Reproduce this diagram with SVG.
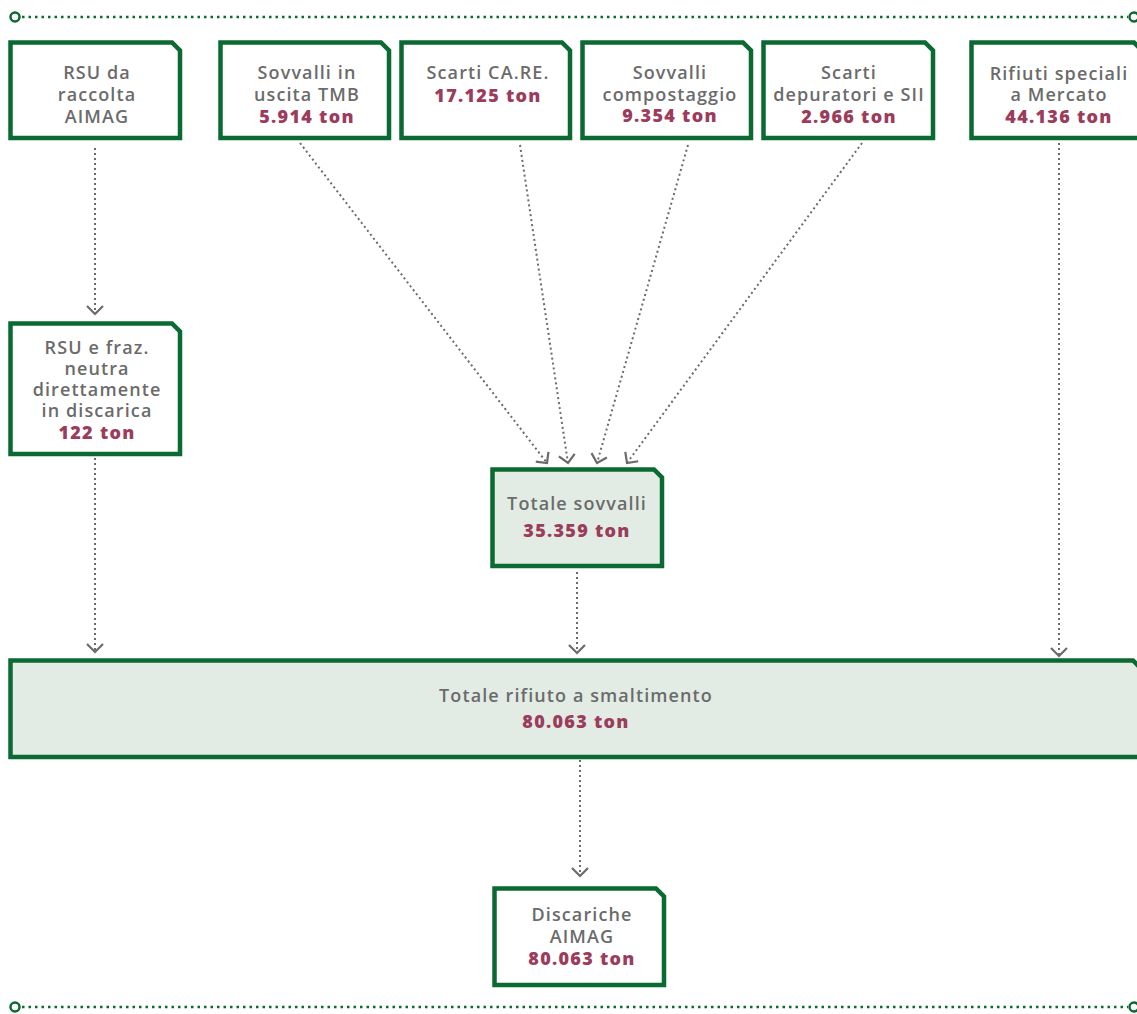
<svg xmlns="http://www.w3.org/2000/svg" width="1137" height="1014" viewBox="0 0 1137 1014">
<defs>
<style>
.box{fill:#ffffff;stroke:#0b6a31;stroke-width:4.5;stroke-linejoin:miter}
.boxf{fill:#e2ece4;stroke:#0b6a31;stroke-width:4.5}
.t{font-family:"Open Sans","Liberation Sans",sans-serif;font-size:18px;font-weight:600;fill:#6b6b6b;text-anchor:middle;letter-spacing:1.1px}
.n{font-family:"Open Sans","Liberation Sans",sans-serif;font-size:18px;font-weight:800;fill:#9c3c5c;text-anchor:middle;letter-spacing:1.3px}
.c{fill:none;stroke:#6b6b6b;stroke-width:2;stroke-dasharray:2 3}
.rule{fill:none;stroke:#0b6a31;stroke-width:2.5;stroke-dasharray:2.5 4}
.end{fill:#fff;stroke:#0b6a31;stroke-width:2.5}
</style>
<marker id="ah" viewBox="0 0 20 20" refX="10" refY="10" markerWidth="20" markerHeight="20" markerUnits="userSpaceOnUse" orient="auto">
<path d="M2 2 L10 10 L2 18" fill="none" stroke="#6b6b6b" stroke-width="2.2"/>
</marker>
</defs>
<g id="rules">
<line class="rule" x1="22" y1="17" x2="1128" y2="17"/>
<circle class="end" cx="15" cy="17" r="4.5"/>
<circle class="end" cx="1134" cy="17" r="4.5"/>
<line class="rule" x1="22" y1="1007" x2="1128" y2="1007"/>
<circle class="end" cx="15" cy="1007" r="4.5"/>
<circle class="end" cx="1134" cy="1007" r="4.5"/>
</g>
<g id="connectors">
<line class="c" x1="95" y1="148" x2="95" y2="314" marker-end="url(#ah)"/>
<line class="c" x1="300" y1="143" x2="547" y2="463" marker-end="url(#ah)"/>
<line class="c" x1="520" y1="145" x2="568" y2="463" marker-end="url(#ah)"/>
<line class="c" x1="688" y1="145" x2="597" y2="463" marker-end="url(#ah)"/>
<line class="c" x1="862" y1="143" x2="627" y2="463" marker-end="url(#ah)"/>
<line class="c" x1="95" y1="458" x2="95" y2="652" marker-end="url(#ah)"/>
<line class="c" x1="577" y1="572" x2="577" y2="653" marker-end="url(#ah)"/>
<line class="c" x1="1059" y1="143" x2="1059" y2="656" marker-end="url(#ah)"/>
<line class="c" x1="580" y1="760" x2="580" y2="876" marker-end="url(#ah)"/>
</g>
<g id="n1">
<path class="box" d="M10.5 42.5 H172 L180 50.5 V138 H10.5 Z"/>
<text class="t" x="97" y="79">RSU da</text>
<text class="t" x="97" y="101">raccolta</text>
<text class="t" x="97" y="123">AIMAG</text>
</g>
<g id="n2">
<path class="box" d="M220.5 42.5 H381 L389 50.5 V138 H220.5 Z"/>
<text class="t" x="307" y="79">Sovvalli in</text>
<text class="t" x="307" y="101">uscita TMB</text>
<text class="n" x="307" y="123">5.914 ton</text>
</g>
<g id="n3">
<path class="box" d="M401.5 42.5 H562 L570 50.5 V138 H401.5 Z"/>
<text class="t" x="488" y="79">Scarti CA.RE.</text>
<text class="n" x="488" y="102">17.125 ton</text>
</g>
<g id="n4">
<path class="box" d="M582.5 42.5 H743 L751 50.5 V138 H582.5 Z"/>
<text class="t" x="670" y="79">Sovvalli</text>
<text class="t" x="670" y="101">compostaggio</text>
<text class="n" x="670" y="122">9.354 ton</text>
</g>
<g id="n5">
<path class="box" d="M763.5 42.5 H925 L933 50.5 V138 H763.5 Z"/>
<text class="t" x="849" y="79">Scarti</text>
<text class="t" x="849" y="101">depuratori e SII</text>
<text class="n" x="849" y="123">2.966 ton</text>
</g>
<g id="n6">
<path class="box" d="M971.5 42.5 H1134 L1142 50.5 V138 H971.5 Z"/>
<text class="t" x="1059" y="80">Rifiuti speciali</text>
<text class="t" x="1059" y="101">a Mercato</text>
<text class="n" x="1059" y="123">44.136 ton</text>
</g>
<g id="n7">
<path class="box" d="M10.5 323.5 H172 L180 331.5 V454 H10.5 Z"/>
<text class="t" x="97" y="354">RSU e fraz.</text>
<text class="t" x="97" y="375">neutra</text>
<text class="t" x="97" y="396">direttamente</text>
<text class="t" x="97" y="417">in discarica</text>
<text class="n" x="97" y="439">122 ton</text>
</g>
<g id="n8">
<path class="boxf" d="M492.5 469.5 H654 L662 477.5 V566 H492.5 Z"/>
<text class="t" x="577" y="510">Totale sovvalli</text>
<text class="n" x="577" y="537">35.359 ton</text>
</g>
<g id="n9">
<path class="boxf" d="M10.5 660.5 H1133 L1141 668.5 V757 H10.5 Z"/>
<text class="t" x="576" y="702">Totale rifiuto a smaltimento</text>
<text class="n" x="576" y="728">80.063 ton</text>
</g>
<g id="n10">
<path class="box" d="M494.5 888.5 H656 L664 896.5 V985 H494.5 Z"/>
<text class="t" x="582" y="921">Discariche</text>
<text class="t" x="582" y="943">AIMAG</text>
<text class="n" x="582" y="965">80.063 ton</text>
</g>
</svg>
